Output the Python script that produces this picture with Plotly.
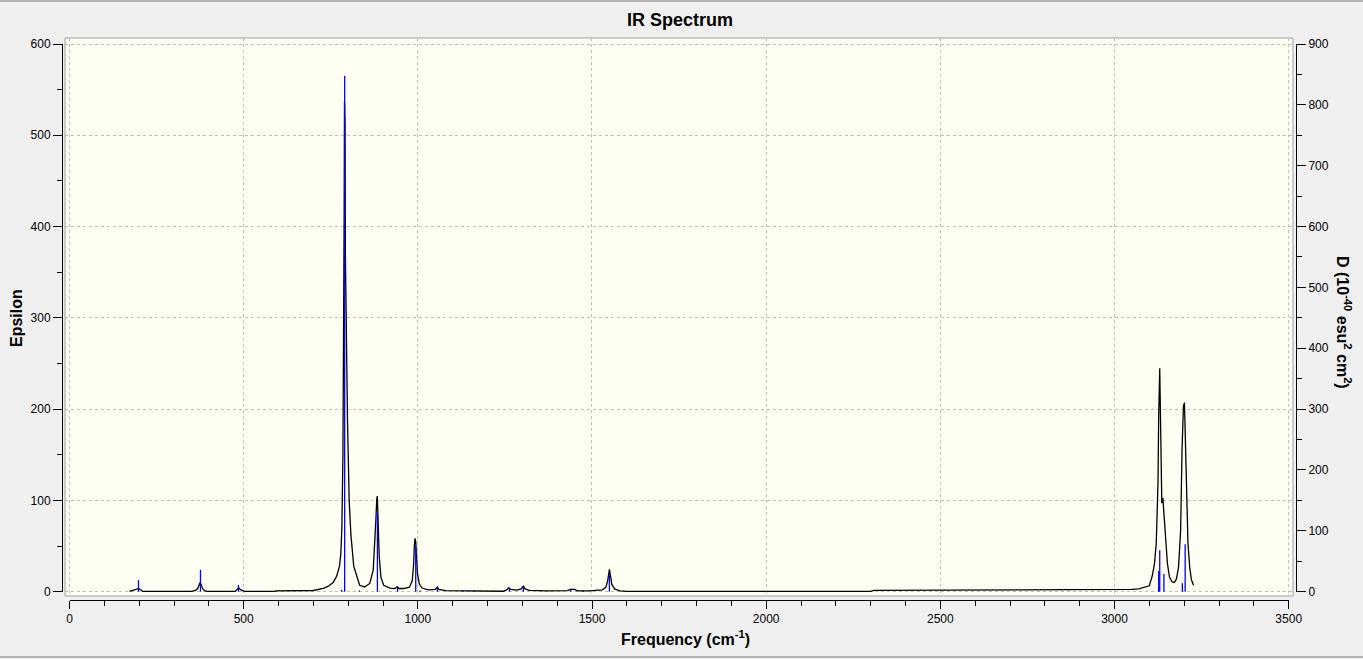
import plotly.graph_objects as go

# IR curve (Epsilon against frequency)
freq = [172, 185, 193, 198, 203, 210, 350, 362, 368, 372, 375, 378, 382, 388, 395,
        476, 481, 486, 490, 496, 502, 590, 592, 700, 715, 729, 743, 757, 767, 775,
        779, 782, 785, 787, 788.5, 789.5, 791, 792, 795, 798, 803, 808, 816, 833,
        847, 862, 872, 878, 880, 882, 883.5, 885, 887, 889, 894, 902, 920, 935,
        941, 946, 960, 976, 984, 988, 990, 992, 994, 996, 999, 1004, 1012, 1030,
        1050, 1056, 1060, 1080, 1150, 1160, 1245, 1255, 1261, 1267, 1285, 1297,
        1303, 1308, 1320, 1370, 1430, 1437, 1450, 1458, 1490, 1530, 1540, 1545,
        1548, 1550, 1553, 1557, 1565, 1580, 1600, 2300, 2310, 2900, 3050, 3070,
        3090, 3100, 3109, 3115, 3120, 3125, 3127, 3130, 3133, 3136, 3139, 3142,
        3146, 3152, 3158, 3165, 3172, 3178, 3184, 3190, 3194, 3198, 3201, 3205,
        3208, 3211, 3216, 3221, 3227]
epsilon = [0.3, 1.5, 2.8, 3.3, 2.5, 0.3, 0.3, 1.5, 3.5, 7, 10, 8, 3.5, 1.2, 0.3,
           0.3, 2.0, 4.4, 2.5, 1.0, 0.3, 0.3, 1.0, 1.3, 2.5, 3.7, 6, 10, 17, 28,
           42, 70, 150, 260, 413, 537, 513, 371, 250, 190, 99, 62, 28, 7,
           5, 9, 24, 60, 82, 100, 104.8, 90, 60, 40, 16, 7, 4, 3.5,
           5.5, 3.5, 3.5, 5, 12, 30, 50, 58.5, 55, 40, 20, 9, 4, 2,
           2.5, 5, 2.5, 1.2, 1, 0.5, 0.5, 2, 4.5, 2.5, 1.7, 3,
           6, 3, 1.5, 1, 1.2, 2.6, 2.6, 1, 1, 2, 5, 12,
           20, 24.5, 18, 8, 3, 1, 0.3, 0.3, 1.5, 1.9, 2.5, 3,
           5, 6.5, 18, 31, 53, 119, 192, 244.7, 170, 97, 102.6, 86,
           53, 31, 16, 11, 10, 14, 27, 67, 155, 203, 207, 160,
           100, 53, 27, 13, 7]

# stick spectrum (dipole strength D, right axis)
stick_freq = [198, 376, 485, 781, 790, 832, 884, 942, 994, 1006, 1056, 1129, 1161,
              1263, 1303, 1439, 1475, 1550, 3127, 3130, 3142, 3195, 3203]
stick_D = [19, 36, 11, 3, 848, 2, 130, 7, 75, 2, 6, 2, 2,
           6, 8, 4, 2, 28, 34, 68, 29, 14, 78]

# tick values
freq_ticks = [0, 500, 1000, 1500, 2000, 2500, 3000, 3500]
eps_ticks = [0, 100, 200, 300, 400, 500, 600]
d_ticks = [0, 100, 200, 300, 400, 500, 600, 700, 800, 900]

# page geometry in pixels
W, H = 1363, 659
L, R, T, B = 62, 67, 38, 59
pw, ph = W - L - R, H - T - B


def px_x(x):
    return (x - L) / pw


def px_y(y):
    return (H - B - y) / ph


fnt = 'Liberation Sans'
grid_col = '#BEBEBE'

# stick segments
sx, sy = [], []
for f, d in zip(stick_freq, stick_D):
    sx += [f, f, None]
    sy += [0, d, None]

fig = go.Figure()
fig.add_trace(go.Scatter(x=sx, y=sy, mode='lines', yaxis='y2',
                         line=dict(color='#0000FF', width=1.3), hoverinfo='skip'))
fig.add_trace(go.Scatter(x=freq, y=epsilon, mode='lines',
                         line=dict(color='black', width=1.3)))
# empty traces so the tick-only axes get drawn
fig.add_trace(go.Scatter(x=[None], y=[None], xaxis='x2', yaxis='y3', hoverinfo='skip'))
fig.add_trace(go.Scatter(x=[None], y=[None], xaxis='x2', yaxis='y4', hoverinfo='skip'))

tickfont = dict(family=fnt, size=12, color='black')

fig.update_layout(
    width=W, height=H, autosize=False,
    margin=dict(l=L, r=R, t=T, b=B),
    paper_bgcolor='#F0F0F0', plot_bgcolor='rgba(0,0,0,0)',
    showlegend=False,
    xaxis=dict(domain=[px_x(65), px_x(1293)], range=[-12.92, 3512.6],
               tickvals=freq_ticks, showticklabels=False, ticks='',
               showgrid=True, gridcolor=grid_col, griddash='3px,3px', gridwidth=1,
               zeroline=False, showline=False),
    yaxis=dict(domain=[px_y(596), px_y(38)], range=[-4.71, 606.57],
               tickvals=eps_ticks, showticklabels=False, ticks='',
               showgrid=True, gridcolor=grid_col, griddash='3px,3px', gridwidth=1,
               zeroline=False, showline=False),
    yaxis2=dict(overlaying='y', anchor='x', range=[-7.065, 909.86], visible=False),
    # axes that only carry the ticks, like the reference
    xaxis2=dict(domain=[px_x(69.5), px_x(1288.7)], range=[0, 3500], anchor='free',
                position=0, side='bottom', showgrid=False, zeroline=False,
                showline=True, linecolor='black', linewidth=1,
                tickvals=freq_ticks, ticks='outside', ticklen=8, tickcolor='black',
                tickfont=tickfont,
                minor=dict(dtick=100, tick0=0, ticks='outside', ticklen=5,
                           tickcolor='black', showgrid=False)),
    yaxis3=dict(domain=[px_y(591.7), px_y(44)], range=[0, 600], anchor='free',
                position=0, side='left', showgrid=False, zeroline=False,
                showline=True, linecolor='black', linewidth=1,
                tickvals=eps_ticks, ticks='outside', ticklen=9, tickcolor='black',
                tickfont=tickfont,
                minor=dict(dtick=50, tick0=0, ticks='outside', ticklen=5,
                           tickcolor='black', showgrid=False)),
    yaxis4=dict(domain=[px_y(591.7), px_y(44)], range=[0, 900], anchor='free',
                position=1, side='right', showgrid=False, zeroline=False,
                showline=True, linecolor='black', linewidth=1,
                tickvals=d_ticks, ticks='outside', ticklen=9, tickcolor='black',
                tickfont=tickfont,
                minor=dict(dtick=50, tick0=0, ticks='outside', ticklen=5,
                           tickcolor='black', showgrid=False)),
)

# plot area and window edges
fig.add_shape(type='rect', xref='paper', yref='paper', layer='below',
              x0=px_x(65), x1=px_x(1293), y0=px_y(596), y1=px_y(38),
              fillcolor='#FFFFF3', line=dict(color='#A0A0A0', width=1))
fig.add_shape(type='line', xref='paper', yref='paper',
              x0=px_x(0), x1=px_x(W), y0=px_y(1), y1=px_y(1),
              line=dict(color='#A0A0A0', width=1.5))
fig.add_shape(type='line', xref='paper', yref='paper',
              x0=px_x(0), x1=px_x(W), y0=px_y(657), y1=px_y(657),
              line=dict(color='#A0A0A0', width=1.5))

# titles
fig.add_annotation(text='<b>IR Spectrum</b>', xref='paper', yref='paper',
                   x=px_x(680), y=px_y(20), showarrow=False,
                   xanchor='center', yanchor='middle',
                   font=dict(family=fnt, size=18, color='black'))
fig.add_annotation(text='<b>Epsilon</b>', xref='paper', yref='paper',
                   x=px_x(16), y=px_y(318), showarrow=False, textangle=-90,
                   xanchor='center', yanchor='middle',
                   font=dict(family=fnt, size=16, color='black'))
fig.add_annotation(text='<b>Frequency (cm<sup>-1</sup>)</b>', xref='paper', yref='paper',
                   x=px_x(685), y=px_y(638), showarrow=False,
                   xanchor='center', yanchor='middle',
                   font=dict(family=fnt, size=16, color='black'))
fig.add_annotation(text='<b>D (10<sup>-40</sup> esu<sup>2</sup> cm<sup>2</sup>)</b>',
                   xref='paper', yref='paper',
                   x=px_x(1344), y=px_y(322), showarrow=False, textangle=90,
                   xanchor='center', yanchor='middle',
                   font=dict(family=fnt, size=16, color='black'))

# the page margin of the browser would shift the figure by 8px
fig.write_html("out.html", config={'displayModeBar': False},
               post_script="document.body.style.margin='0';")
